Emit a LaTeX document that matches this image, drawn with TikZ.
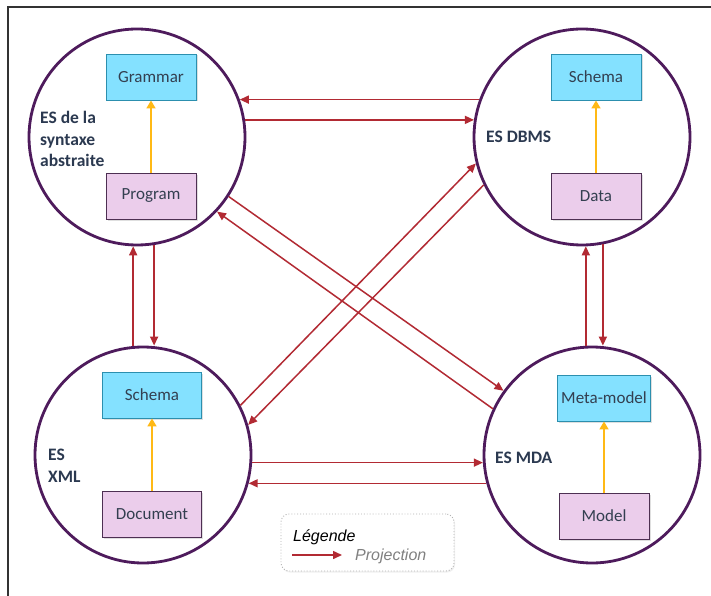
\documentclass[tikz,border=0pt]{standalone}
\usepackage{fontspec}
\setmainfont{Carlito}
\newfontfamily\legendfont{Liberation Sans}
\usepackage{xcolor}
\usetikzlibrary{shapes,arrows.meta,positioning,calc,shadows}

\definecolor{spacepurple}{HTML}{4E1B5C}
\definecolor{metafill}{HTML}{84E1FF}
\definecolor{metaline}{HTML}{2C8FAE}
\definecolor{modelfill}{HTML}{EBCDEB}
\definecolor{modelline}{HTML}{4D2F52}
\definecolor{confyellow}{HTML}{FFB915}
\definecolor{projred}{HTML}{B22A33}
\definecolor{boxtext}{HTML}{333F50}
\definecolor{labeltext}{HTML}{2B3950}
\definecolor{framegray}{HTML}{333333}

\begin{document}
\begin{tikzpicture}[x=1pt, y=-1pt,
  space/.style={circle, draw=spacepurple, line width=2.8pt, minimum size=216pt,
                inner sep=0pt},
  meta/.style={rectangle, draw=metaline, fill=metafill, line width=0.9pt,
               minimum width=90pt, minimum height=46pt, text=boxtext,
               font=\fontsize{17}{20}\selectfont,
               drop shadow={shadow xshift=1.5pt, shadow yshift=-1.5pt, opacity=0.25}},
  model/.style={meta, draw=modelline, fill=modelfill},
  eslabel/.style={font=\fontsize{17.5}{21.5}\selectfont\bfseries, text=labeltext,
                  align=left, anchor=west, inner sep=0pt},
  conf/.style={draw=confyellow, line width=1.6pt, -{Triangle[length=8pt,width=9pt]}},
  proj/.style={draw=projred, line width=1.5pt, -{Triangle[length=9pt,width=8pt]}},
  legendbox/.style={rectangle, rounded corners=8pt, draw=gray!60, dotted,
                    line width=0.9pt, minimum width=173pt, minimum height=57pt,
                    fill=white, drop shadow={shadow xshift=1pt, shadow yshift=-1.5pt, opacity=0.12}},
  legendtext/.style={font={\legendfont\itshape\fontsize{16}{19}\selectfont},
                     anchor=west, inner sep=0pt},
]
  \useasboundingbox (0,0) rectangle (711,596);
  \fill[white] (0,0) rectangle (711,596);

  % frame
  \draw[line width=1.2pt, draw=framegray] (8,596) -- (8,7) -- (711,7);

  % technical spaces
  \node[space] (tl) at (137,137) {};
  \node[space] (tr) at (582,137) {};
  \node[space] (bl) at (143,455) {};
  \node[space] (br) at (592,455) {};

  \node[eslabel] (tllabel) at (40,139) {ES de la\\syntaxe\\abstraite};
  \node[eslabel] (trlabel) at (486,137) {ES DBMS};
  \node[eslabel] (bllabel) at (48,466) {ES\\XML};
  \node[eslabel] (brlabel) at (495,458) {ES MDA};

  % meta level / model level
  \node[meta] (grammar) at (151,77) {Grammar};
  \node[model] (program) at (151,196) {Program};
  \node[meta] (dbschema) at (596,77) {Schema};
  \node[model] (data) at (596,196) {Data};
  \node[meta, minimum width=99pt] (xmlschema) at (152,395) {Schema};
  \node[model, minimum width=99pt] (document) at (152,514) {Document};
  \node[meta] (metamodel) at (604,398) {Meta-model};
  \node[model] (model) at (604,516) {Model};

  % conformity
  \draw[conf] (program.north) -- (grammar.south);
  \draw[conf] (data.north) -- (dbschema.south);
  \draw[conf] (document.north) -- (xmlschema.south);
  \draw[conf] (model.north) -- (metamodel.south);

  % projections, horizontal
  \draw[proj] (tr.160) -- (tl.20);
  \draw[proj] (tl.9) -- (tr.171);
  \draw[proj] (bl.-4) -- (br.184);
  \draw[proj] (br.195) -- (bl.-15);

  % projections, vertical
  \draw[proj] (tl.268 |- bl.north) -- (tl.268);
  \draw[proj] (tl.279) -- (tl.279 |- bl.north);
  \draw[proj] (tr.272 |- br.north) -- (tr.272);
  \draw[proj] (tr.281) -- (tr.281 |- br.north);

  % projections, diagonal
  \draw[proj] (tl.-33) -- (br.144);
  \draw[proj] (br.155) -- (tl.-43);
  \draw[proj] (bl.27) -- (tr.194);
  \draw[proj] (tr.206) -- (bl.16);

  % legend
  \node[legendbox] (legend) at (367.5,542.5) {};
  \node[legendtext] (legtitle) at (293,537) {Légende};
  \node[legendtext, text=gray] (legproj) at (355,556) {Projection};
  \coordinate (lgA) at (292,555);
  \coordinate (lgB) at (342,555);
  \draw[proj] (lgA) -- (lgB);

\end{tikzpicture}
\end{document}
